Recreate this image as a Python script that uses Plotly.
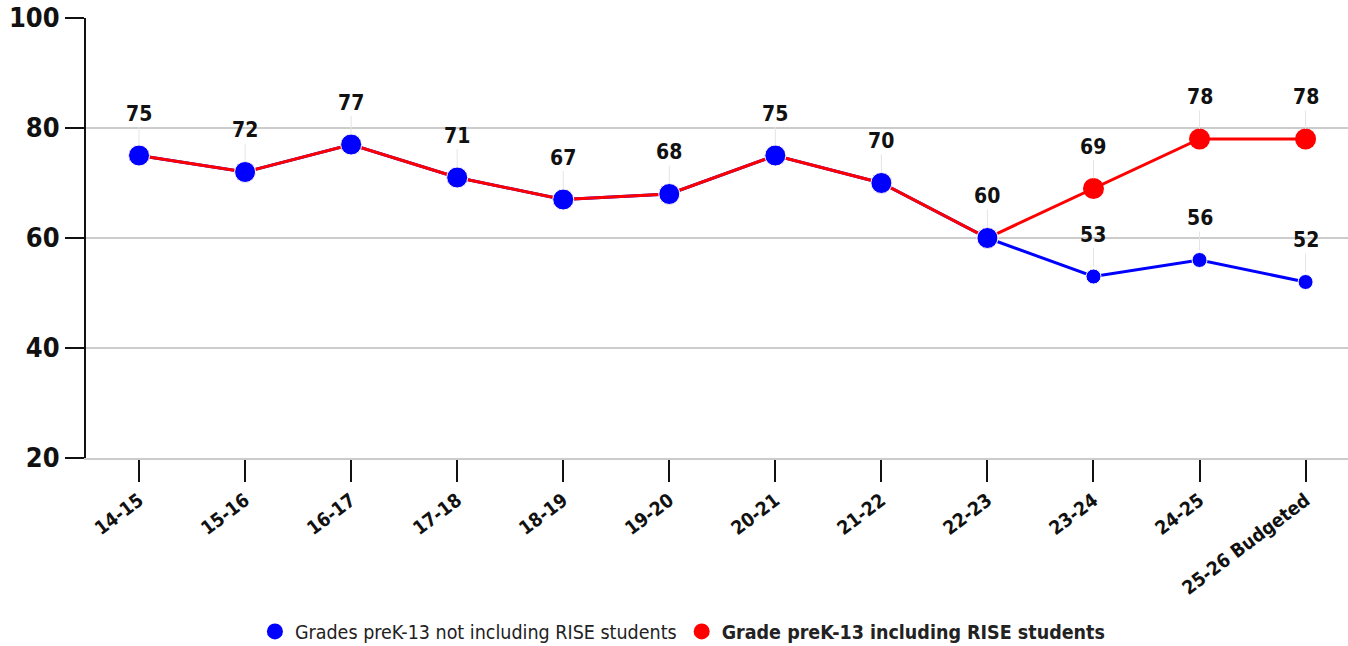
import plotly.graph_objects as go

# School years on the x axis
years = ["14-15", "15-16", "16-17", "17-18", "18-19", "19-20",
         "20-21", "21-22", "22-23", "23-24", "24-25", "25-26 Budgeted"]

# Enrollment series
without_rise = [75, 72, 77, 71, 67, 68, 75, 70, 60, 53, 56, 52]
with_rise = [75, 72, 77, 71, 67, 68, 75, 70, 60, 69, 78, 78]

name_without = "Grades preK-13 not including RISE students"
name_with = "<b>Grade preK-13 including RISE students</b>"

BLUE = "#0000ff"
RED = "#ff0000"
FONT = "DejaVu Sans Condensed, Liberation Sans Narrow, Arial, sans-serif"

x_idx = list(range(len(years)))

fig = go.Figure()

# Blue line underneath the red one
fig.add_trace(go.Scatter(
    x=x_idx, y=without_rise, mode="lines",
    line=dict(color=BLUE, width=3), showlegend=False, hoverinfo="skip"))

# Red line
fig.add_trace(go.Scatter(
    x=x_idx, y=with_rise, mode="lines",
    line=dict(color=RED, width=3), showlegend=False, hoverinfo="skip"))

# Red markers
fig.add_trace(go.Scatter(
    x=x_idx, y=with_rise, mode="markers", showlegend=False,
    marker=dict(color=RED, size=21, opacity=1)))

# Blue markers on top; larger where both series share the value
blue_sizes = [21 if a == b else 15 for a, b in zip(without_rise, with_rise)]
fig.add_trace(go.Scatter(
    x=x_idx, y=without_rise, mode="markers", showlegend=False,
    marker=dict(color=BLUE, size=blue_sizes, opacity=1)))

# Legend entries
fig.add_trace(go.Scatter(
    x=[None], y=[None], mode="markers", name=name_without,
    marker=dict(color=BLUE, size=20), legendrank=1))
fig.add_trace(go.Scatter(
    x=[None], y=[None], mode="markers", name=name_with,
    marker=dict(color=RED, size=20), legendrank=2))

# Value labels with faint leader lines
annotations = []
for i, v in enumerate(with_rise):
    annotations.append(dict(x=i, y=v, text=f"<b>{v}</b>"))
for i, (a, b) in enumerate(zip(without_rise, with_rise)):
    if a != b:
        annotations.append(dict(x=i, y=a, text=f"<b>{a}</b>"))
for a in annotations:
    a.update(xref="x", yref="y", showarrow=True, arrowhead=0, arrowwidth=1,
             arrowcolor="#e4e4e4", ax=0, ay=-42, standoff=10,
             font=dict(family=FONT, size=21, color="#111111"))

fig.update_layout(
    width=1348, height=646,
    margin=dict(l=86, r=0, t=18, b=188),
    paper_bgcolor="white", plot_bgcolor="white",
    font=dict(family=FONT, color="#111111"),
    annotations=annotations,
    legend=dict(orientation="h", x=0.473, xanchor="center",
                yref="container", y=0.022, yanchor="middle",
                font=dict(size=19.5, family=FONT, color="#222222"),
                itemwidth=30, traceorder="normal"),
)

fig.update_xaxes(
    range=[-0.5, 11.4], tickmode="array", tickvals=x_idx, ticktext=years,
    tickangle=-37,
    tickfont=dict(size=19, family=FONT, color="#111111", weight="bold"),
    ticks="outside", ticklen=22, tickwidth=2, tickcolor="#111111",
    showline=True, linecolor="#cccccc", linewidth=2,
    showgrid=False, zeroline=False)

fig.update_yaxes(
    range=[20, 100], tickvals=[20, 40, 60, 80, 100],
    tickfont=dict(size=27, family=FONT, color="#111111", weight="bold"),
    ticks="outside", ticklen=19, tickwidth=2, tickcolor="#111111",
    showline=True, linecolor="#111111", linewidth=2,
    showgrid=True, gridcolor="#cccccc", gridwidth=1.5, zeroline=False)

fig.write_html("out.html")
